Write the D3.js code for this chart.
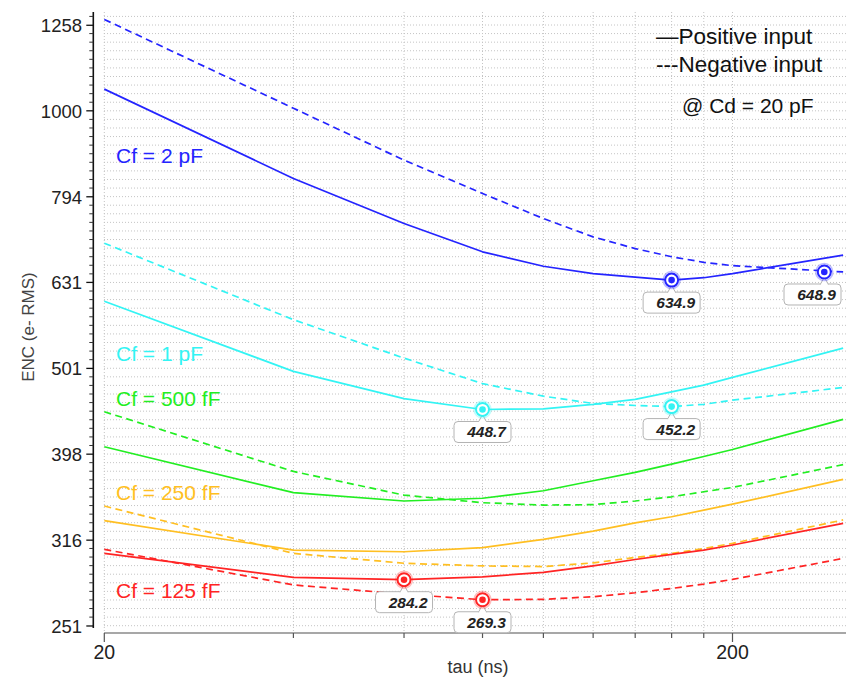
<!DOCTYPE html>
<html>
<head>
<meta charset="utf-8">
<script src="https://cdn.jsdelivr.net/npm/d3@7"></script>
<style>
  body { margin: 0; background: #fff; }
  svg { display: block; }
</style>
</head>
<body>
<svg></svg>
<script>
// sweep points (ns)
const tau = [20, 40, 60, 80, 100, 120, 140, 160, 180, 200, 300];

// ENC (e- RMS), solid = positive input, dashed = negative input
const pos2pF   = [1060, 834, 739, 685, 659, 646, 640, 634.9, 639, 646, 679];
const neg2pF   = [1278, 1007, 876, 801, 749, 713, 691, 676, 666, 660, 649];
const pos1pF   = [600, 497, 462, 448.7, 449.5, 455, 461, 470.5, 479, 489, 529];
const neg1pF   = [701, 571, 515, 481, 465, 456, 453.5, 452.2, 455, 460, 476];
const pos500fF = [406, 359, 351, 353.6, 360.8, 370.6, 379, 387.5, 395.5, 403, 437];
const neg500fF = [446, 380, 356.6, 349.4, 347.2, 347.6, 351, 355, 359.8, 364, 387];
const pos250fF = [333, 307.7, 306.3, 309.8, 316.7, 323.8, 331, 336.5, 342.5, 348, 372];
const neg250fF = [346.3, 305, 297, 294.9, 294.4, 297.3, 301.7, 304.9, 309, 313.3, 333.6];
const pos125fF = [305, 286, 284.2, 286.4, 289.8, 294.9, 300, 304.2, 307.7, 311.9, 330.6];
const neg125fF = [308.3, 280.2, 273.4, 269.3, 269.6, 271.5, 274.4, 277.6, 280.9, 284.4, 300.9];

const cfNames = ["Cf = 2 pF", "Cf = 1 pF", "Cf = 500 fF", "Cf = 250 fF", "Cf = 125 fF"];
const colors = ["#2424ff", "#33f4f4", "#22ee22", "#ffbf22", "#ff2424"];

// markers: curve index, dashed?, tau, value
const markerCurve = [0, 0, 1, 1, 4, 4];
const markerDashed = [false, true, false, true, false, true];
const markerTau = [160, 280, 80, 160, 60, 80];
const markerEnc = [634.9, 648.9, 448.7, 452.2, 284.2, 269.3];

const yTickLabels = [251, 316, 398, 501, 631, 794, 1000, 1258];
const xTickValues = [20, 40, 60, 80, 100, 120, 140, 160, 180, 200];
const xTickLabels = [20, 200];

const width = 846, height = 682;
const plot = { left: 104, right: 846, top: 12, bottom: 633 };
const font = "'Liberation Sans', Arial, sans-serif";

const svg = d3.select("svg")
    .attr("width", width)
    .attr("height", height)
    .style("font-family", font);

const x = d3.scaleLog().domain([20, 200]).range([104.3, 732.5]);
const y = d3.scaleLog().domain([Math.pow(10, 2.4), Math.pow(10, 3.1)]).range([625.7, 25]);

// grid
const gridVals = d3.range(239, 312).map(i => Math.pow(10, i / 100))
    .filter(v => y(v) >= plot.top && y(v) <= plot.bottom);

svg.append("g")
    .selectAll("line")
    .data(gridVals)
    .join("line")
    .attr("x1", plot.left).attr("x2", plot.right)
    .attr("y1", d => y(d)).attr("y2", d => y(d))
    .attr("stroke", "#c4c4c4")
    .attr("stroke-width", 1)
    .attr("stroke-dasharray", "1,2");

svg.append("g")
    .selectAll("line")
    .data(xTickValues)
    .join("line")
    .attr("x1", d => x(d)).attr("x2", d => x(d))
    .attr("y1", plot.top).attr("y2", plot.bottom)
    .attr("stroke", "#c4c4c4")
    .attr("stroke-width", 1)
    .attr("stroke-dasharray", "1,2");

// y axis
const yAxisX = 93.3;
svg.append("line")
    .attr("x1", yAxisX).attr("x2", yAxisX)
    .attr("y1", plot.top).attr("y2", 628)
    .attr("stroke", "#111").attr("stroke-width", 1.6);

const majorLogs = yTickLabels.map(v => Math.round(Math.log10(v) * 100));
svg.append("g")
    .selectAll("line")
    .data(gridVals.filter(v => !majorLogs.includes(Math.round(Math.log10(v) * 100))))
    .join("line")
    .attr("x1", yAxisX - 4).attr("x2", yAxisX)
    .attr("y1", d => y(d)).attr("y2", d => y(d))
    .attr("stroke", "#333").attr("stroke-width", 1);

svg.append("g")
    .selectAll("line")
    .data(yTickLabels)
    .join("line")
    .attr("x1", yAxisX - 7).attr("x2", yAxisX)
    .attr("y1", d => y(d)).attr("y2", d => y(d))
    .attr("stroke", "#111").attr("stroke-width", 1.3);

svg.append("g")
    .selectAll("text")
    .data(yTickLabels)
    .join("text")
    .attr("x", 82)
    .attr("y", d => y(d) + 7)
    .attr("text-anchor", "end")
    .attr("font-size", "18.5px")
    .attr("fill", "#222")
    .text(d => d);

svg.append("text")
    .attr("transform", "translate(34,327) rotate(-90)")
    .attr("text-anchor", "middle")
    .attr("font-size", "17px")
    .attr("fill", "#444")
    .text("ENC (e- RMS)");

// x axis
svg.append("line")
    .attr("x1", plot.left).attr("x2", plot.right)
    .attr("y1", plot.bottom).attr("y2", plot.bottom)
    .attr("stroke", "#8a8a8a").attr("stroke-width", 1.6);

svg.append("g")
    .selectAll("line")
    .data(xTickValues)
    .join("line")
    .attr("x1", d => x(d)).attr("x2", d => x(d))
    .attr("y1", plot.bottom)
    .attr("y2", d => xTickLabels.includes(d) ? plot.bottom + 9 : plot.bottom + 5)
    .attr("stroke", "#555").attr("stroke-width", 1.2);

svg.append("g")
    .selectAll("text")
    .data(xTickLabels)
    .join("text")
    .attr("x", d => x(d))
    .attr("y", 659)
    .attr("text-anchor", "middle")
    .attr("font-size", "19.5px")
    .attr("fill", "#222")
    .text(d => d);

svg.append("text")
    .attr("x", 478)
    .attr("y", 673)
    .attr("text-anchor", "middle")
    .attr("font-size", "18px")
    .attr("fill", "#333")
    .text("tau (ns)");

// curves
svg.append("clipPath").attr("id", "clip")
    .append("rect")
    .attr("x", plot.left).attr("y", plot.top)
    .attr("width", plot.right - plot.left).attr("height", plot.bottom - plot.top);

const curves = [
    { c: 0, dashed: false, enc: pos2pF },  { c: 0, dashed: true, enc: neg2pF },
    { c: 1, dashed: false, enc: pos1pF },  { c: 1, dashed: true, enc: neg1pF },
    { c: 2, dashed: false, enc: pos500fF }, { c: 2, dashed: true, enc: neg500fF },
    { c: 3, dashed: false, enc: pos250fF }, { c: 3, dashed: true, enc: neg250fF },
    { c: 4, dashed: false, enc: pos125fF }, { c: 4, dashed: true, enc: neg125fF }
];

const line = d3.line()
    .x(d => x(d[0]))
    .y(d => y(d[1]));

svg.append("g")
    .attr("clip-path", "url(#clip)")
    .selectAll("path")
    .data(curves)
    .join("path")
    .attr("d", d => line(tau.map((t, i) => [t, d.enc[i]])))
    .attr("fill", "none")
    .attr("stroke", d => colors[d.c])
    .attr("stroke-width", 1.7)
    .attr("stroke-dasharray", d => d.dashed ? "7,4.5" : null)
    .attr("stroke-linejoin", "round");

// curve labels
const labelBaselines = [163, 361, 406, 500, 598];
svg.append("g")
    .selectAll("text")
    .data(cfNames)
    .join("text")
    .attr("x", 116)
    .attr("y", (d, i) => labelBaselines[i])
    .attr("font-size", "21px")
    .attr("fill", (d, i) => colors[i])
    .text(d => d);

// legend
const legend = svg.append("g").attr("font-size", "22.5px").attr("fill", "#111");
legend.append("text").attr("x", 656).attr("y", 44).text("\u2014Positive input");
legend.append("text").attr("x", 656).attr("y", 72).text("---Negative input");
legend.append("text").attr("x", 682).attr("y", 113).attr("font-size", "21px").text("@ Cd = 20 pF");

// markers with callouts
const markers = markerTau.map((t, i) => ({
    t, v: markerEnc[i], c: markerCurve[i], dashed: markerDashed[i]
}));

const mg = svg.append("g")
    .selectAll("g")
    .data(markers)
    .join("g");

const boxW = 57, boxH = 21;
mg.each(function(d) {
    const g = d3.select(this);
    const mx = x(d.t), my = y(d.v);
    const bx = Math.min(mx - boxW / 2, plot.right - 5 - boxW);
    const by = my + 12;
    g.append("rect")
        .attr("x", bx).attr("y", by)
        .attr("width", boxW).attr("height", boxH)
        .attr("rx", 4).attr("ry", 4)
        .attr("fill", "#fff")
        .attr("stroke", "#b4b4b4")
        .attr("stroke-width", 1);
    g.append("path")
        .attr("d", `M${mx - 4},${by + 0.5} L${mx},${my + 5} L${mx + 4},${by + 0.5}`)
        .attr("fill", "#fff")
        .attr("stroke", "#b4b4b4")
        .attr("stroke-width", 1);
    g.append("line")
        .attr("x1", mx - 3.3).attr("x2", mx + 3.3)
        .attr("y1", by + 0.5).attr("y2", by + 0.5)
        .attr("stroke", "#fff").attr("stroke-width", 1.5);
    g.append("text")
        .attr("x", bx + boxW - 5)
        .attr("y", by + 16)
        .attr("text-anchor", "end")
        .attr("font-size", "15.5px")
        .attr("font-weight", "bold")
        .attr("font-style", "italic")
        .attr("fill", "#222")
        .text(d.v.toFixed(1));
    g.append("circle")
        .attr("cx", mx).attr("cy", my).attr("r", 8.5)
        .attr("fill", "none")
        .attr("stroke", colors[d.c])
        .attr("stroke-opacity", 0.3)
        .attr("stroke-width", 1.5);
    g.append("circle")
        .attr("cx", mx).attr("cy", my).attr("r", 6.5)
        .attr("fill", "#fff")
        .attr("stroke", colors[d.c])
        .attr("stroke-width", 2);
    g.append("circle")
        .attr("cx", mx).attr("cy", my).attr("r", 3.3)
        .attr("fill", colors[d.c]);
});
</script>
</body>
</html>
